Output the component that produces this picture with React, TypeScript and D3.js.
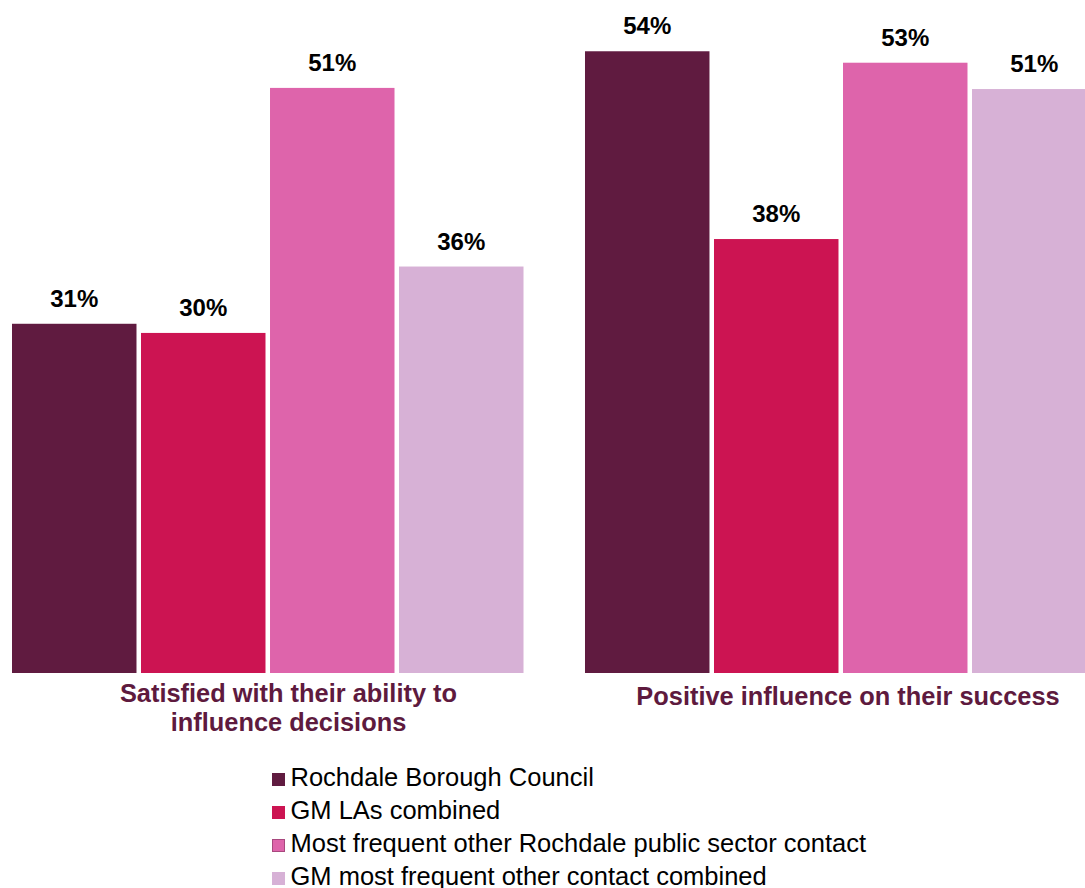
import React from "react";
import * as d3 from "d3";

const categories = ["Satisfied with their ability to\ninfluence decisions", "Positive influence on their success"];
const seriesNames = [
  "Rochdale Borough Council",
  "GM LAs combined",
  "Most frequent other Rochdale public sector contact",
  "GM most frequent other contact combined",
];
const seriesColors = ["#601b40", "#cc1452", "#de64ab", "#d7b1d6"];
const legendStroke = ["#601b40", "#cc1452", "#a8487e", "#d7b1d6"];
// values per series: [category1, category2]
const rochdale = [30.5, 54.3];
const gmLAs = [29.7, 37.9];
const otherRochdale = [51.1, 53.3];
const gmOther = [35.5, 51.0];
const labels = [
  ["31%", "54%"],
  ["30%", "38%"],
  ["51%", "53%"],
  ["36%", "51%"],
];
const seriesValues = [rochdale, gmLAs, otherRochdale, gmOther];

const W = 1085;
const H = 888;
const baseY = 673;

export default function App() {
  const x0 = d3.scaleBand<number>().domain([0, 1]).range([12, 1096.5]).paddingInner(0.1073).paddingOuter(0);
  const x1 = d3.scaleBand<number>().domain([0, 1, 2, 3]).range([0, x0.bandwidth()]).paddingInner(0.035);
  const y = d3.scaleLinear().domain([0, 55]).range([baseY, baseY - 55 * 11.45]);
  const labelCenters = [288.5, 848];

  return (
    <div style={{ position: "absolute", left: 0, top: 0 }}>
      <svg width={W} height={H} style={{ display: "block", fontFamily: "'Liberation Sans', Arial, sans-serif" }}>
        <rect width={W} height={H} fill="#fff" />
        {categories.map((cat, ci) => (
          <g key={ci} transform={`translate(${x0(ci)},0)`}>
            {seriesValues.map((vals, si) => {
              const bx = x1(si)!;
              const bw = x1.bandwidth();
              const top = y(vals[ci]);
              return (
                <g key={si}>
                  <rect x={bx} y={top} width={bw} height={baseY - top} fill={seriesColors[si]} />
                  <text x={bx + bw / 2} y={top - 17} textAnchor="middle" fontWeight="bold" fontSize={24} fill="#000">
                    {labels[si][ci]}
                  </text>
                </g>
              );
            })}
          </g>
        ))}
        {categories.map((cat, ci) => {
          const lines = cat.split("\n");
          const cx = labelCenters[ci];
          const startY = lines.length === 1 ? 705 : 702;
          return (
            <text key={ci} textAnchor="middle" fontWeight="bold" fontSize={25.4} fill="#5e1a3e">
              {lines.map((l, li) => (
                <tspan key={li} x={cx} y={startY + li * 29}>
                  {l}
                </tspan>
              ))}
            </text>
          );
        })}
        {seriesNames.map((name, i) => (
          <g key={i} transform={`translate(272,${786 + i * 33})`}>
            <rect x={0.5} y={-12.5} width={12} height={12} fill={seriesColors[i]} stroke={legendStroke[i]} strokeWidth={1} />
            <text x={18.5} y={0} fontSize={25.5} fill="#000">
              {name}
            </text>
          </g>
        ))}
      </svg>
    </div>
  );
}
